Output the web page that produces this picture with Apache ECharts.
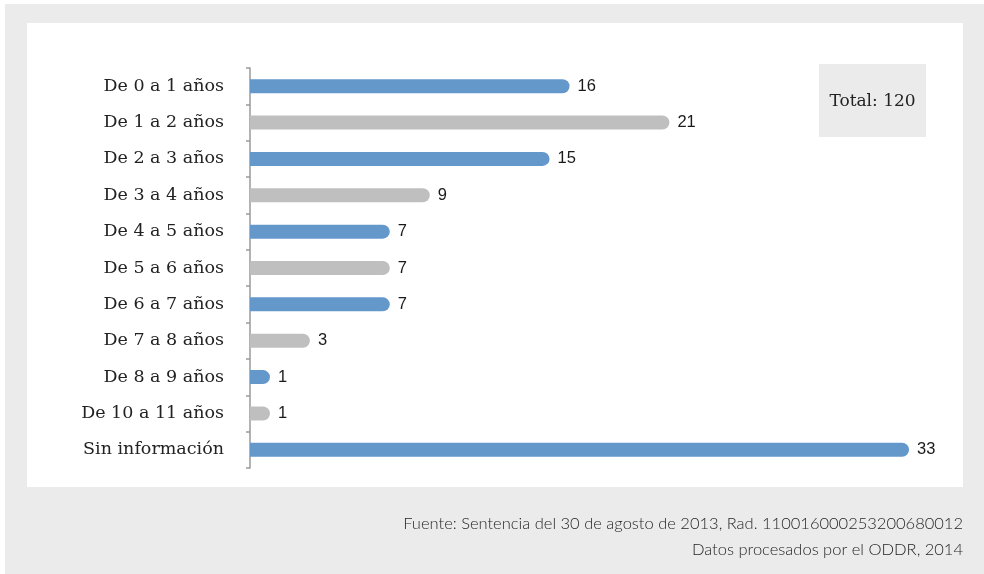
<!DOCTYPE html>
<html>
<head>
<meta charset="utf-8">
<script src="https://cdn.jsdelivr.net/npm/echarts@6/dist/echarts.min.js"></script>
<style>
  html, body { margin: 0; padding: 0; background: #ffffff; }
  #chart { width: 984px; height: 574px; }
</style>
</head>
<body>
<div id="chart"></div>
<script>
// Age ranges and number of cases per range
const categories = [
  'De 0 a 1 años', 'De 1 a 2 años', 'De 2 a 3 años', 'De 3 a 4 años',
  'De 4 a 5 años', 'De 5 a 6 años', 'De 6 a 7 años', 'De 7 a 8 años',
  'De 8 a 9 años', 'De 10 a 11 años', 'Sin información'
];
const values = [16, 21, 15, 9, 7, 7, 7, 3, 1, 1, 33];
const totalText = 'Total: 120';
const sourceLines = [
  'Fuente: Sentencia del 30 de agosto de 2013, Rad. 110016000253200680012',
  'Datos procesados por el ODDR, 2014'
];

const BLUE = '#6498cb';
const GREY = '#bfbfbf';
const SERIF = '"DejaVu Serif", serif';

const chart = echarts.init(document.getElementById('chart'), null, { renderer: 'canvas' });

chart.setOption({
  backgroundColor: '#ffffff',
  animation: false,
  graphic: [
    // outer grey frame
    { type: 'rect', z: -10, shape: { x: 5, y: 4, width: 979, height: 570 }, style: { fill: '#ebebeb' } },
    // white plotting panel
    { type: 'rect', z: -9, shape: { x: 27, y: 23, width: 936, height: 464 }, style: { fill: '#ffffff' } },
    // total box
    { type: 'rect', z: -8, shape: { x: 819, y: 64, width: 107, height: 73 }, style: { fill: '#ebebeb' } },
    {
      type: 'text', x: 872.5, y: 102,
      style: { text: totalText, font: '17px ' + SERIF, fill: '#222222', textAlign: 'center', textVerticalAlign: 'middle' }
    },
    {
      type: 'text', x: 963, y: 524,
      style: { text: sourceLines[0], font: '300 16.5px Lato, "Open Sans", sans-serif', fill: '#262626', textAlign: 'right', textVerticalAlign: 'middle' }
    },
    {
      type: 'text', x: 963, y: 550,
      style: { text: sourceLines[1], font: '300 16.5px Lato, "Open Sans", sans-serif', fill: '#262626', textAlign: 'right', textVerticalAlign: 'middle' }
    }
  ],
  grid: { left: 250, right: 35, top: 68, bottom: 106, containLabel: false },
  xAxis: {
    type: 'value', min: 0, max: 35,
    show: false
  },
  yAxis: {
    type: 'category',
    data: categories,
    inverse: true,
    axisLine: { show: true, lineStyle: { color: '#9a9a9a', width: 1.5 } },
    axisTick: { show: true, inside: false, length: 4, lineStyle: { color: '#9a9a9a', width: 1.5 } },
    axisLabel: {
      margin: 26,
      fontFamily: SERIF,
      fontSize: 17.5,
      color: '#222222'
    }
  },
  series: [{
    type: 'bar',
    data: values.map((v, i) => ({
      value: v,
      itemStyle: { color: i % 2 === 0 ? BLUE : GREY }
    })),
    barWidth: 14,
    itemStyle: { borderRadius: [0, 7, 7, 0] },
    label: {
      show: true,
      position: 'right',
      distance: 8,
      fontFamily: '"Liberation Sans", Arial, sans-serif',
      fontSize: 16.5,
      color: '#1a1a1a'
    }
  }]
});
</script>
</body>
</html>
